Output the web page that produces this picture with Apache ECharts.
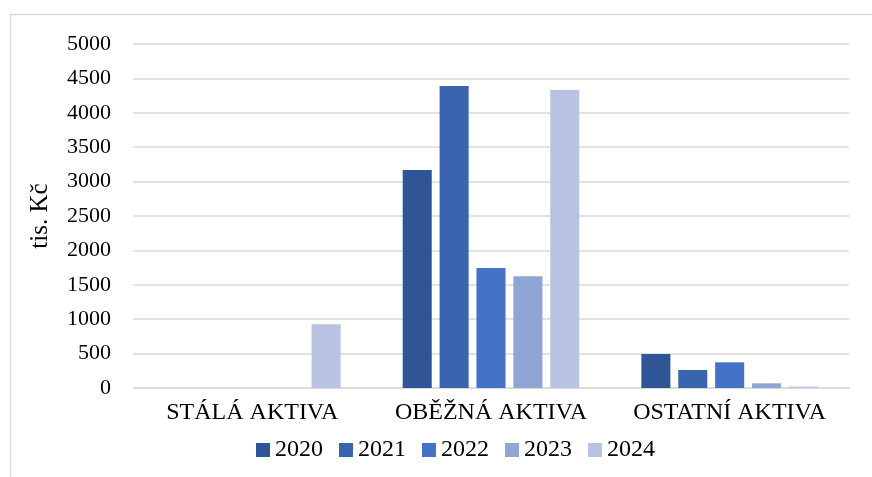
<!DOCTYPE html>
<html>
<head>
<meta charset="utf-8">
<script src="https://cdn.jsdelivr.net/npm/echarts@6/dist/echarts.min.js"></script>
<style>html,body{margin:0;padding:0;background:#fff}#c{width:872px;height:477px}</style>
</head>
<body>
<div id="c"></div>
<script>
const categories = ['STÁLÁ AKTIVA', 'OBĚŽNÁ AKTIVA', 'OSTATNÍ AKTIVA'];
const years = ['2020', '2021', '2022', '2023', '2024'];
const v2020 = [0, 3170, 495];
const v2021 = [0, 4390, 262];
const v2022 = [0, 1745, 373];
const v2023 = [0, 1625, 68];
const v2024 = [925, 4330, 20];
const colors = ['#2F5597', '#3A64AD', '#4472C4', '#8FA5D6', '#B8C3E3'];
const values = [v2020, v2021, v2022, v2023, v2024];
const font = "'Liberation Serif', 'Times New Roman', serif";

const chart = echarts.init(document.getElementById('c'), null, {renderer: 'canvas'});
chart.setOption({
  animation: false,
  backgroundColor: '#fff',
  textStyle: {fontFamily: font},
  graphic: [{
    type: 'rect', left: 8, top: 12, shape: {width: 900, height: 500},
    style: {fill: 'none', stroke: '#D9D9D9', lineWidth: 1.5}, silent: true, z: -1
  }],
  grid: {left: 133, right: 23, top: 44, bottom: 89},
  legend: {
    bottom: 10, left: 251, itemWidth: 14, itemHeight: 14, itemGap: 16,
    icon: 'rect',
    textStyle: {fontFamily: font, fontSize: 24, color: '#000'},
    data: years
  },
  xAxis: {
    type: 'category', data: categories,
    axisLine: {lineStyle: {color: '#D9D9D9', width: 1.5}},
    axisTick: {show: false},
    axisLabel: {fontFamily: font, fontSize: 24, color: '#000', margin: 13, interval: 0, hideOverlap: false}
  },
  yAxis: {
    type: 'value', min: 0, max: 5000, interval: 500,
    name: 'tis. Kč', nameLocation: 'middle', nameGap: 80, nameRotate: 90,
    nameTextStyle: {fontFamily: font, fontSize: 25, color: '#000'},
    axisLine: {show: false}, axisTick: {show: false},
    axisLabel: {fontFamily: font, fontSize: 22, color: '#000', margin: 22, formatter: v => String(v)},
    splitLine: {lineStyle: {color: '#D9D9D9', width: 1.5}}
  },
  series: years.map((y, i) => ({
    name: y, type: 'bar', data: values[i],
    barGap: '27%', barCategoryGap: '26%',
    itemStyle: {color: colors[i], borderWidth: 0}
  }))
});
</script>
</body>
</html>
